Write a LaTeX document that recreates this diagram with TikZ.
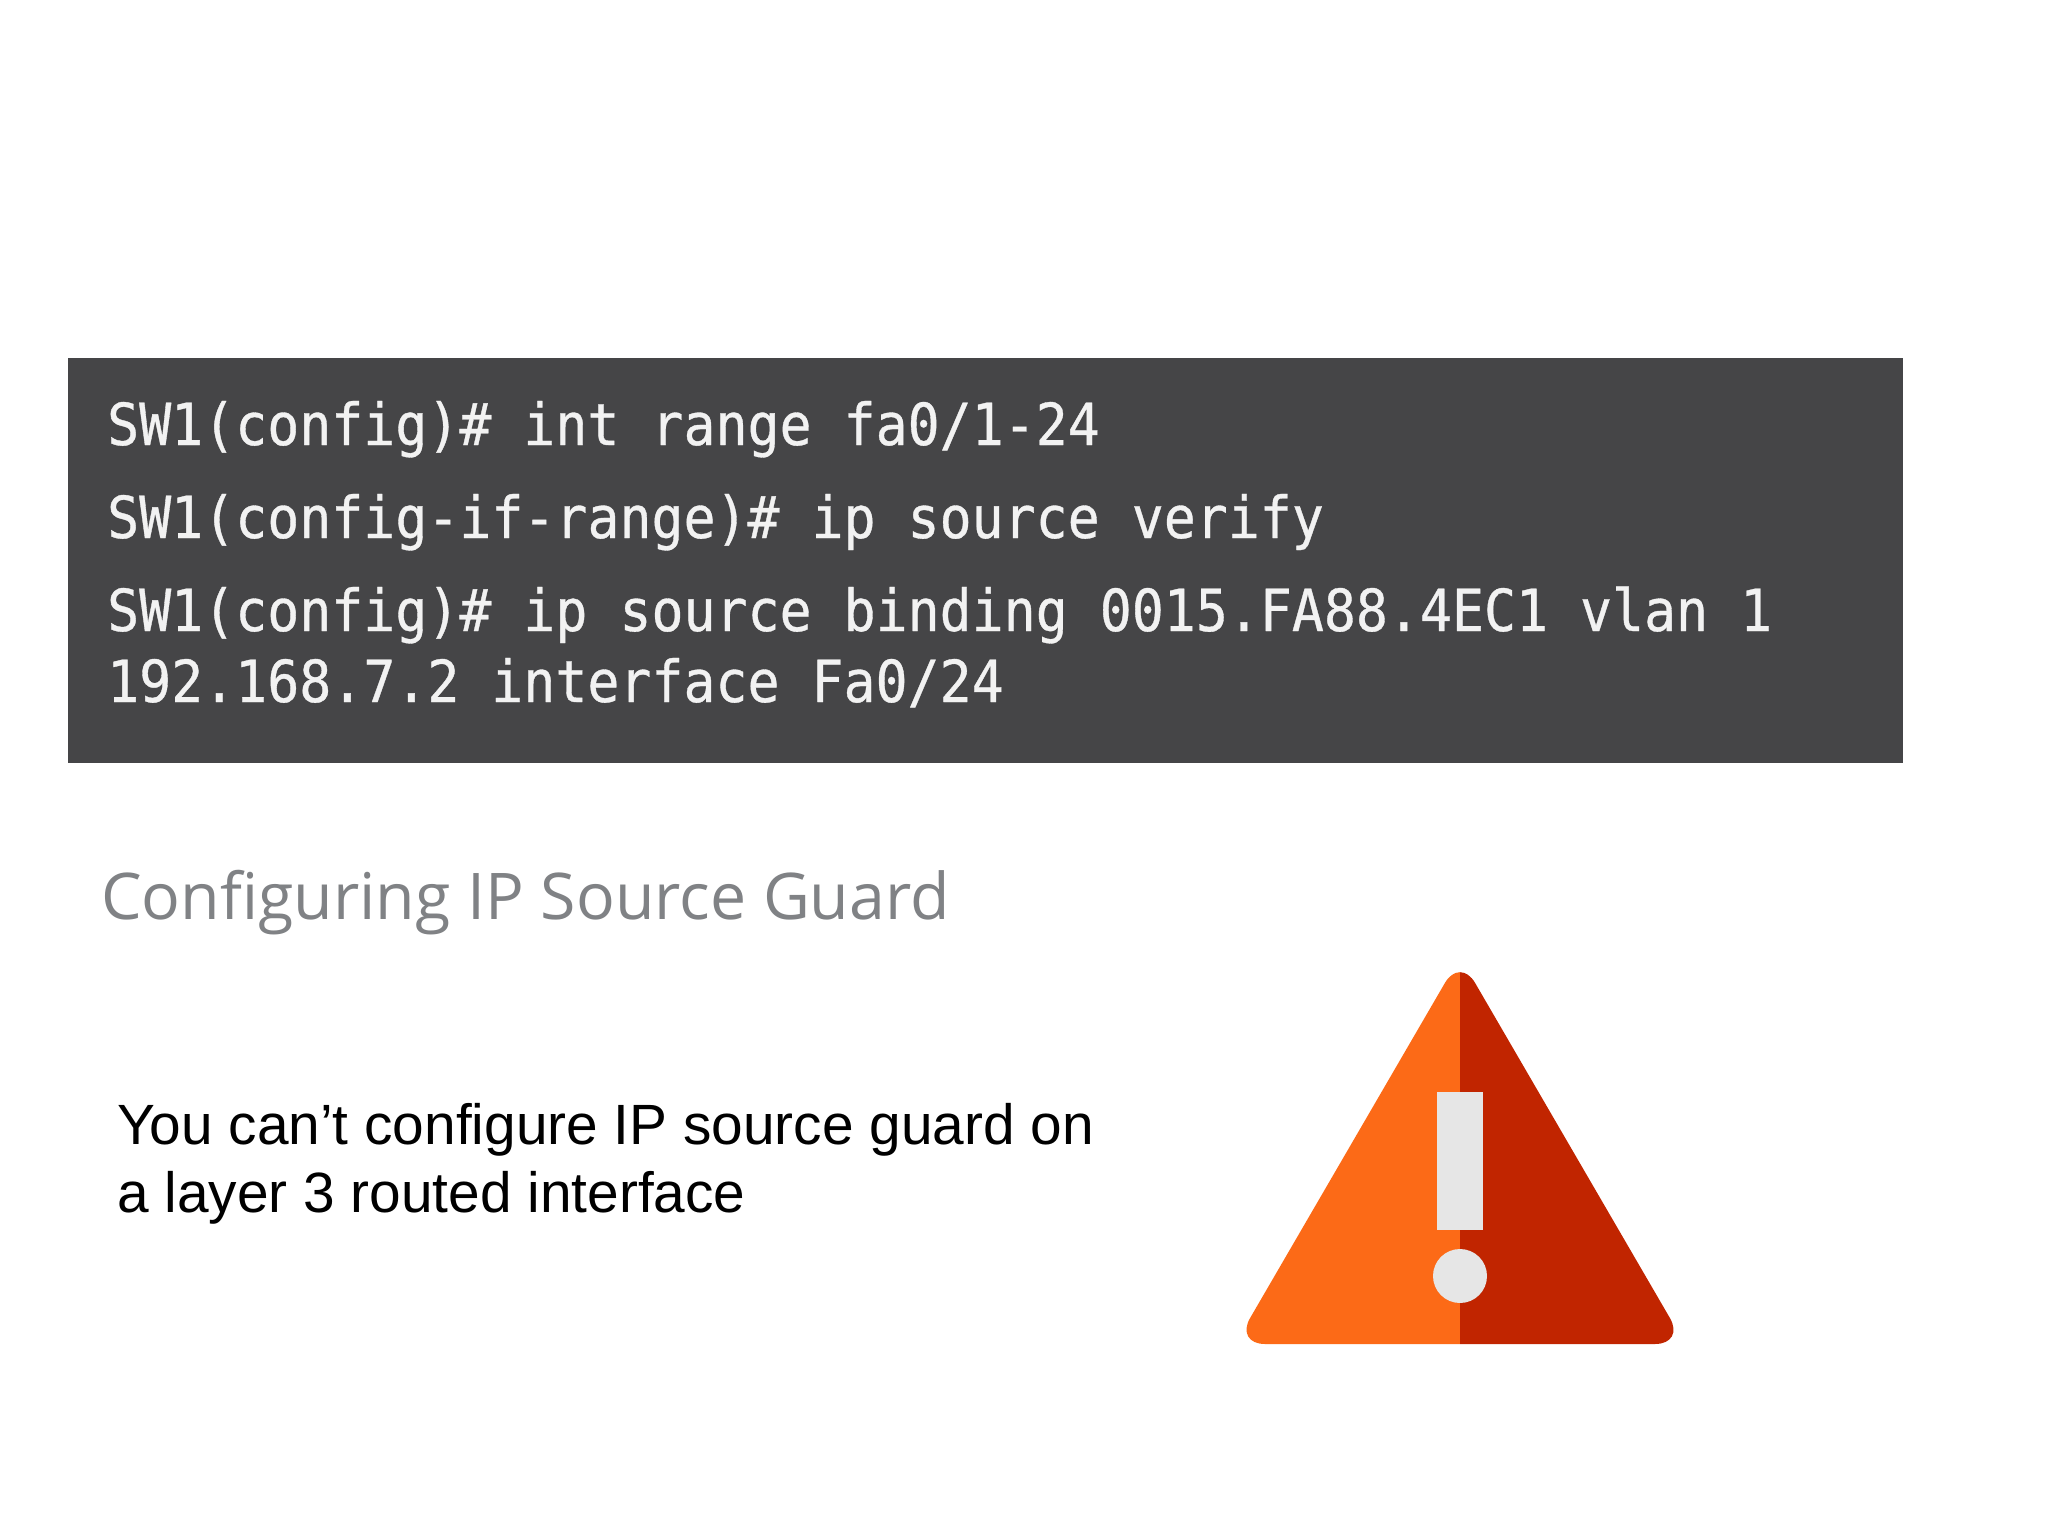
\documentclass[tikz,border=0pt]{standalone}
\usepackage{fontspec}
\setmainfont{Liberation Sans}
\newfontfamily\codefont[FakeStretch=0.917,FakeBold=0.6]{DejaVu Sans Mono}
\newfontfamily\titlefont{Open Sans}
\definecolor{panel}{HTML}{454547}
\definecolor{codetext}{HTML}{F2F2F2}
\definecolor{titlegray}{HTML}{808285}
\definecolor{warnlight}{HTML}{FC6A17}
\definecolor{warndark}{HTML}{C12500}
\definecolor{markgray}{HTML}{E6E6E6}
\tikzset{
  x=1pt,y=-1pt,
  codeline/.style={anchor=base west,inner sep=0pt,text=codetext,font=\codefont\fontsize{58}{58}\selectfont},
  bodyline/.style={anchor=base west,inner sep=0pt,text=black,font=\fontsize{56.8}{56.8}\selectfont},
  titleline/.style={anchor=base west,inner sep=0pt,text=titlegray,font=\titlefont\fontsize{64.4}{64.4}\selectfont}
}
\begin{document}
\begin{tikzpicture}
\useasboundingbox (0,0) rectangle (2048,1536);
\fill[white] (0,0) rectangle (2048,1536);
\fill[panel] (68,358) rectangle (1903,763);
\node[codeline] (l1) at (107,445) {SW1(config)\# int range fa0/1-24};
\node[codeline] (l2) at (107,538) {SW1(config-if-range)\# ip source verify};
\node[codeline] (l3) at (107,631) {SW1(config)\# ip source binding 0015.FA88.4EC1 vlan 1};
\node[codeline] (l4) at (107,702) {192.168.7.2 interface Fa0/24};
\node[titleline] (title) at (101,919) {Configuring IP Source Guard};
\node[bodyline] (b1) at (117,1144) {You can’t configure IP source guard on};
\node[bodyline] (b2) at (117,1212) {a layer 3 routed interface};
\begin{scope}
\clip[rounded corners=30pt] (1460,957) -- (1685,1344) -- (1235,1344) -- cycle;
\fill[warnlight] (1220,950) rectangle (1460,1350);
\fill[warndark] (1460,950) rectangle (1700,1350);
\end{scope}
\fill[markgray] (1437,1092) rectangle (1483,1230);
\fill[markgray] (1460,1276) circle[radius=27];
\end{tikzpicture}
\end{document}
